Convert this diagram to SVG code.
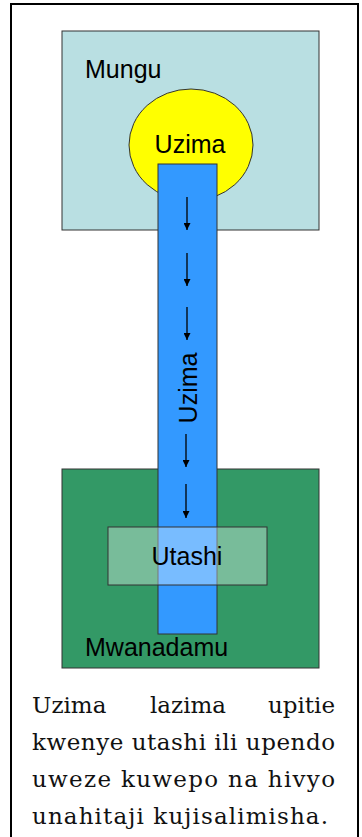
<svg xmlns="http://www.w3.org/2000/svg" width="362" height="837" viewBox="0 0 362 837">
<style>
.lbl{font-family:"Liberation Sans",Arial,sans-serif;font-size:25px;fill:#000}
.para{font-family:"DejaVu Serif","Liberation Serif",serif;font-size:23px;fill:#111}
.box{stroke:#333;stroke-width:1}
.arr{stroke:#000;stroke-width:1.3;fill:none;marker-end:url(#ah)}
</style>
<defs>
<marker id="ah" viewBox="0 0 10 10" refX="10" refY="5" markerWidth="7" markerHeight="7" markerUnits="userSpaceOnUse" orient="auto"><path d="M0,0 L10,5 L0,10 Z" fill="#000"/></marker>
</defs>
<rect x="11" y="4" width="347" height="850" fill="#fff" stroke="#000" stroke-width="2"/>
<g id="mungu">
<rect class="box" x="62" y="31" width="257" height="199" fill="#b9dfe2"/>
<text class="lbl" x="85" y="78">Mungu</text>
</g>
<g id="uzima-source">
<ellipse class="box" cx="191" cy="145" rx="62" ry="56" fill="#ffff00"/>
<text class="lbl" x="190" y="153" text-anchor="middle">Uzima</text>
</g>
<g id="mwanadamu">
<rect class="box" x="62" y="469" width="257" height="199" fill="#339966"/>
<text class="lbl" x="85" y="656">Mwanadamu</text>
</g>
<g id="uzima-channel">
<rect class="box" x="158" y="164" width="59" height="470" fill="#3399ff"/>
<text class="lbl" transform="translate(197,388) rotate(-90)" text-anchor="middle">Uzima</text>
</g>
<g id="connectors">
<line class="arr" x1="187" y1="197" x2="187" y2="230"/>
<line class="arr" x1="187" y1="253" x2="187" y2="286"/>
<line class="arr" x1="187" y1="307" x2="187" y2="340"/>
<line class="arr" x1="186" y1="434" x2="186" y2="467"/>
<line class="arr" x1="186" y1="484" x2="186" y2="518"/>
</g>
<g id="utashi">
<rect class="box" x="108" y="527" width="159" height="58" fill="#ffffff" fill-opacity="0.34"/>
<text class="lbl" x="187" y="565" text-anchor="middle">Utashi</text>
</g>
<g id="caption" class="para">
<text x="32" y="713">Uzima</text>
<text x="188" y="713" text-anchor="middle">lazima</text>
<text x="335" y="713" text-anchor="end">upitie</text>
<text x="32" y="750" textLength="303" lengthAdjust="spacing">kwenye utashi ili upendo</text>
<text x="32" y="787" textLength="303" lengthAdjust="spacing">uweze kuwepo na hivyo</text>
<text x="32" y="824" textLength="296" lengthAdjust="spacing">unahitaji kujisalimisha.</text>
</g>
</svg>
